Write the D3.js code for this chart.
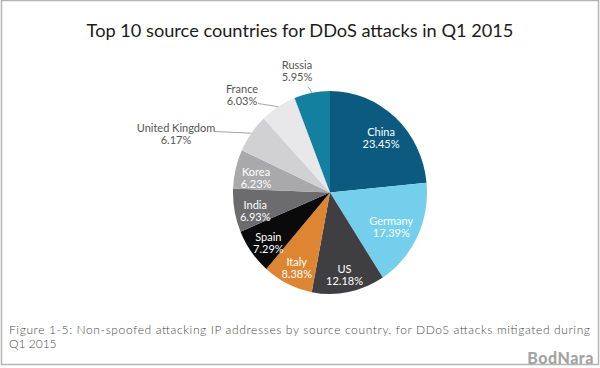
<!DOCTYPE html>
<html>
<head>
<meta charset="utf-8">
<script src="https://cdn.jsdelivr.net/npm/d3@7"></script>
<style>
  html, body { margin: 0; padding: 0; background: #fff; }
  svg { display: block; font-family: Lato, "Open Sans", sans-serif; }
</style>
</head>
<body>
<svg id="chart" width="600" height="368"></svg>
<script>
// data
const countries = ["China", "Germany", "US", "Italy", "Spain", "India", "Korea", "United Kingdom", "France", "Russia"];
const shares = [23.45, 17.39, 12.18, 8.38, 7.29, 6.93, 6.23, 6.17, 6.03, 5.95];
const sliceColors = ["#0c5a80", "#73cfec", "#3f3f41", "#dd8532", "#0a0a0a", "#6c6c6e", "#a9a9ab", "#d1d1d3", "#e8e8ea", "#13809f"];

const titleText = "Top 10 source countries for DDoS attacks in Q1 2015";
const captionLines = [
    "Figure 1-5: Non-spoofed attacking IP addresses by source country, for DDoS attacks mitigated during",
    "Q1 2015"
];

// the three small slices get their labels outside, with a leader line
// (text spot and line start, relative to the pie centre)
const outside = {
    7: { tx: -154, ty: -61, lx: -115, ly: -61 },
    8: { tx: -88, ty: -100, lx: -72, ly: -89 },
    9: { tx: -33, ty: -124, lx: -22, ly: -106 }
};

const svg = d3.select("#chart");
const cx = 330, cy = 192.5, r = 97, squash = 1.046;

// frame
svg.append("rect")
    .attr("x", 1.5)
    .attr("y", 0.5)
    .attr("width", 597)
    .attr("height", 364)
    .attr("fill", "none")
    .attr("stroke", "#b4b4b4")
    .attr("stroke-width", 1.5);

svg.append("text")
    .attr("x", 300)
    .attr("y", 37)
    .attr("text-anchor", "middle")
    .attr("font-size", 18.2)
    .attr("fill", "#1b1b1b")
    .text(titleText);

const pie = d3.pie().sort(null).value(d => d);
const arcs = pie(shares);
const arc = d3.arc().innerRadius(0).outerRadius(r);

const g = svg.append("g")
    .attr("transform", `translate(${cx},${cy}) scale(1,${squash})`);

g.selectAll("path")
    .data(arcs)
    .enter()
    .append("path")
    .attr("d", arc)
    .attr("fill", (d, i) => sliceColors[i]);

// point on the (slightly tall) pie for a given angle and radius
const polar = (a, rad) => [cx + rad * Math.sin(a), cy - rad * Math.cos(a) * squash];

const labels = svg.append("g").attr("font-size", 11);

arcs.forEach((d, i) => {
    const mid = (d.startAngle + d.endAngle) / 2;
    const pct = d3.format(".2f")(shares[i]) + "%";
    const o = outside[i];
    if (o) {
        const edge = polar(mid, r);
        labels.append("line")
            .attr("x1", cx + o.lx)
            .attr("y1", cy + o.ly)
            .attr("x2", edge[0])
            .attr("y2", edge[1])
            .attr("stroke", "#a6a6a6")
            .attr("stroke-width", 1);
        const t = labels.append("text")
            .attr("text-anchor", "middle")
            .attr("fill", "#555");
        t.append("tspan").attr("x", cx + o.tx).attr("y", cy + o.ty).text(countries[i]);
        t.append("tspan").attr("x", cx + o.tx).attr("y", cy + o.ty + 12).text(pct);
    } else {
        // Germany sits a little closer in than the rest
        const p = polar(mid, i === 1 ? 68 : 76);
        const t = labels.append("text")
            .attr("text-anchor", "middle")
            .attr("fill", "#fff");
        t.append("tspan").attr("x", p[0]).attr("y", p[1] + 2).text(countries[i]);
        t.append("tspan").attr("x", p[0]).attr("y", p[1] + 14).text(pct);
    }
});

// caption, first line justified across the frame
svg.append("text")
    .attr("x", 9)
    .attr("y", 334)
    .attr("font-size", 12)
    .attr("font-weight", 300)
    .attr("fill", "#4a4a4a")
    .attr("textLength", 581)
    .attr("lengthAdjust", "spacing")
    .text(captionLines[0]);

svg.append("text")
    .attr("x", 9)
    .attr("y", 348)
    .attr("font-size", 12)
    .attr("font-weight", 300)
    .attr("fill", "#4a4a4a")
    .text(captionLines[1]);

// watermark
svg.append("text")
    .attr("x", 594)
    .attr("y", 364)
    .attr("text-anchor", "end")
    .attr("font-size", 16)
    .attr("font-weight", 900)
    .attr("fill", "#a3a3a3")
    .attr("letter-spacing", 0.5)
    .text("BodNara");
</script>
</body>
</html>
